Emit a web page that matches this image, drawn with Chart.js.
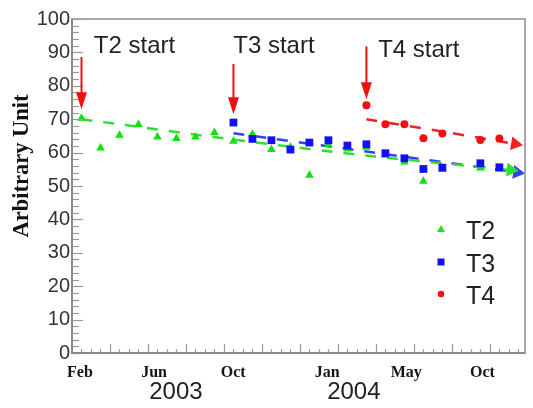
<!DOCTYPE html>
<html>
<head>
<meta charset="utf-8">
<script src="https://cdn.jsdelivr.net/npm/chart.js@4/dist/chart.umd.min.js"></script>
<style>
  html, body { margin: 0; padding: 0; background: #ffffff; }
  canvas { display: block; }
</style>
</head>
<body>
<canvas id="c" width="533" height="408"></canvas>
<script>
// ---- data ----
const months = ['Feb 2003','Mar 2003','Apr 2003','May 2003','Jun 2003','Jul 2003','Aug 2003','Sep 2003',
                'Oct 2003','Nov 2003','Dec 2003','Jan 2004','Feb 2004','Mar 2004','Apr 2004','May 2004',
                'Jun 2004','Jul 2004','Aug 2004','Sep 2004','Oct 2004','Nov 2004','Dec 2004','Jan 2005'];
const t2Values = [70.3, 61.4, 65.2, 68.4, 64.7, 64.2, 64.7, 66.0,
                  63.4, 65.5, 60.9, 61.6, 53.2, 62.4, 61.1, 61.6,
                  59.3, 57.2, 51.4, 55.0, null, 55.4, 55.0, null];
const t3Values = [null, null, null, null, null, null, null, null,
                  69.0, 64.1, 63.7, 60.9, 63.0, 63.7, 62.1, 62.5,
                  59.8, 58.3, 55.1, 55.5, null, 56.8, 55.6, null];
const t4Values = [null, null, null, null, null, null, null, null,
                  null, null, null, null, null, null, null, 74.2,
                  68.5, 68.5, 64.3, 65.7, null, 63.8, 64.2, null];
// trend lines (month position, value)
const t2TrendX = [0.5, 8.5, 15.5, 23.1];
const t2TrendY = [70.0, 63.9, 59.1, 54.8];
const t3TrendX = [8.5, 15.5, 23.44];
const t3TrendY = [65.8, 60.3, 54.1];
const t4TrendX = [15.5, 19.5, 23.33];
const t4TrendY = [70.0, 66.3, 62.6];
// axis tick labels
const xTickLabels = ['Feb', 'Jun', 'Oct', 'Jan', 'May', 'Oct'];
const xTickAt     = [0.42, 4.32, 8.49, 13.44, 17.6, 21.61];
const yearLabels  = ['2003', '2004'];
const yearAt      = [5.47, 14.84];
const yTickStep = 10;
// annotations
const startLabels = ['T2 start', 'T3 start', 'T4 start'];
const startTextX  = [1.15, 8.49, 16.12];
const startTextY  = [91.7, 91.7, 90.6];
const startArrowX = [0.5, 8.5, 15.5];
const startArrowTop = [88.6, 86.5, 91.8];
const startArrowTip = [73.0, 71.5, 76.0];
const seriesNames = ['T2', 'T3', 'T4'];

const GREEN = '#10e010', BLUE = '#1010f0', RED = '#f01010';
const GREEN_L = '#33dd33', BLUE_L = '#3344ee', RED_L = '#ee2222';

function pts(vals) {
  const out = [];
  vals.forEach((v, i) => { if (v !== null) out.push({ x: i + 0.5, y: v }); });
  return out;
}
function trend(xs, ys) { return xs.map((x, i) => ({ x: x, y: ys[i] })); }

function arrowRotation(ctx) {
  const data = ctx.dataset.data;
  const n = data.length;
  const sx = ctx.chart.scales.x, sy = ctx.chart.scales.y;
  const ax = sx.getPixelForValue(data[n - 2].x), ay = sy.getPixelForValue(data[n - 2].y);
  const bx = sx.getPixelForValue(data[n - 1].x), by = sy.getPixelForValue(data[n - 1].y);
  return Math.atan2(by - ay, bx - ax) * 180 / Math.PI + 90;
}
function trendDataset(label, data, color) {
  return {
    label: label, data: data, showLine: true, borderColor: color, backgroundColor: color,
    borderWidth: 2.5, borderDash: [11, 11], tension: 0.3, order: 10, clip: false,
    pointStyle: 'triangle',
    pointRadius: ctx => ctx.dataIndex === ctx.dataset.data.length - 1 ? 8 : 0,
    pointRotation: arrowRotation,
    pointBorderWidth: 0, pointHoverRadius: 0
  };
}

const framePlugin = {
  id: 'framePlugin',
  afterDraw(chart) {
    const c = chart.ctx, a = chart.chartArea;
    const sx = chart.scales.x, sy = chart.scales.y;
    c.save();
    // ticks inside the plot
    c.strokeStyle = '#9a9a9a';
    c.lineWidth = 1.2;
    for (let v = 0; v <= 100; v += 2) {
      const y = Math.round(sy.getPixelForValue(v)) + 0.5;
      const len = v % 10 === 0 ? 11 : 7;
      c.beginPath(); c.moveTo(a.left, y); c.lineTo(a.left + len, y); c.stroke();
    }
    for (let m = 0; m <= 23.8; m += 0.5) {
      const x = Math.round(sx.getPixelForValue(m)) + 0.5;
      const len = m % 2 === 0 ? 9 : 4;
      c.beginPath(); c.moveTo(x, a.bottom); c.lineTo(x, a.bottom - len); c.stroke();
    }
    // frame
    c.strokeStyle = '#a8a8a8';
    c.lineWidth = 2;
    c.strokeRect(a.left, a.top, a.right - a.left, a.bottom - a.top);
    c.strokeStyle = '#8a8a8a';
    c.beginPath(); c.moveTo(a.left, a.top); c.lineTo(a.left, a.bottom); c.lineTo(a.right, a.bottom); c.stroke();

    // year labels
    c.fillStyle = '#222';
    c.font = '24px "Liberation Sans", Arial, sans-serif';
    c.textAlign = 'center';
    c.textBaseline = 'middle';
    yearLabels.forEach((t, i) => c.fillText(t, sx.getPixelForValue(yearAt[i]), 392));

    // y axis title
    c.save();
    c.translate(22, 166);
    c.rotate(-Math.PI / 2);
    c.font = 'bold 22.5px "Liberation Serif", "Times New Roman", serif';
    c.fillStyle = '#111';
    c.fillText('Arbitrary Unit', 0, 0);
    c.restore();

    // start annotations
    c.font = '24px "Liberation Sans", Arial, sans-serif';
    c.textAlign = 'left';
    c.fillStyle = '#222';
    startLabels.forEach((t, i) => {
      c.fillText(t, sx.getPixelForValue(startTextX[i]), sy.getPixelForValue(startTextY[i]));
      const x = sx.getPixelForValue(startArrowX[i]);
      const y0 = sy.getPixelForValue(startArrowTop[i]);
      const y1 = sy.getPixelForValue(startArrowTip[i]);
      c.strokeStyle = '#ee1111';
      c.fillStyle = '#ee1111';
      c.lineWidth = 2;
      c.beginPath(); c.moveTo(x, y0); c.lineTo(x, y1 - 14); c.stroke();
      c.beginPath(); c.moveTo(x - 5.5, y1 - 17); c.lineTo(x + 5.5, y1 - 17); c.lineTo(x, y1); c.closePath(); c.fill();
      c.fillStyle = '#222';
    });

    // legend
    const lx = 441, ly = [229, 262, 294], ty = [232, 265, 297];
    c.font = '25px "Liberation Sans", Arial, sans-serif';
    seriesNames.forEach((t, i) => {
      c.fillStyle = ['#20e020', BLUE, RED][i];
      c.beginPath();
      if (i === 0) { c.moveTo(lx, ly[i] - 4); c.lineTo(lx + 4, ly[i] + 3); c.lineTo(lx - 4, ly[i] + 3); c.closePath(); }
      else if (i === 1) { c.rect(lx - 3.5, ly[i] - 3.5, 7, 7); }
      else { c.arc(lx, ly[i], 3.3, 0, Math.PI * 2); }
      c.fill();
      c.fillStyle = '#222';
      c.fillText(t, 466, ty[i]);
    });
    c.restore();
  }
};

new Chart(document.getElementById('c'), {
  type: 'line',
  data: {
    datasets: [
      trendDataset('T2 trend', trend(t2TrendX, t2TrendY), GREEN_L),
      trendDataset('T3 trend', trend(t3TrendX, t3TrendY), BLUE_L),
      trendDataset('T4 trend', trend(t4TrendX, t4TrendY), RED_L),
      { label: 'T2', data: pts(t2Values), showLine: false, pointStyle: 'triangle', pointRadius: 5,
        backgroundColor: GREEN, borderColor: GREEN, pointBorderWidth: 0, order: 3 },
      { label: 'T3', data: pts(t3Values), showLine: false, pointStyle: 'rect', pointRadius: 5.5,
        backgroundColor: BLUE, borderColor: BLUE, pointBorderWidth: 0, order: 2 },
      { label: 'T4', data: pts(t4Values), showLine: false, pointStyle: 'circle', pointRadius: 4,
        backgroundColor: RED, borderColor: RED, pointBorderWidth: 0, order: 1 }
    ]
  },
  options: {
    responsive: false,
    devicePixelRatio: 1,
    animation: false,
    layout: { padding: { top: 19, right: 3, left: 0, bottom: 0 } },
    plugins: { legend: { display: false }, tooltip: { enabled: false } },
    scales: {
      x: {
        type: 'linear', min: 0, max: 23.85,
        grid: { display: false, drawTicks: false },
        border: { display: false },
        afterBuildTicks: s => { s.ticks = xTickAt.map(v => ({ value: v })); },
        afterFit: s => { s.height = 55; },
        ticks: {
          autoSkip: false, maxRotation: 0, padding: 10, color: '#151515',
          font: { family: '"Liberation Serif", "Times New Roman", serif', weight: 'bold', size: 16 },
          callback: (v, i) => xTickLabels[i]
        }
      },
      y: {
        min: 0, max: 100,
        grid: { display: false, drawTicks: false },
        border: { display: false },
        afterFit: s => { s.width = 72; },
        ticks: {
          stepSize: yTickStep, padding: 2, color: '#333',
          font: { family: '"Liberation Sans", Arial, sans-serif', size: 20 }
        }
      }
    }
  },
  plugins: [framePlugin]
});
</script>
</body>
</html>
